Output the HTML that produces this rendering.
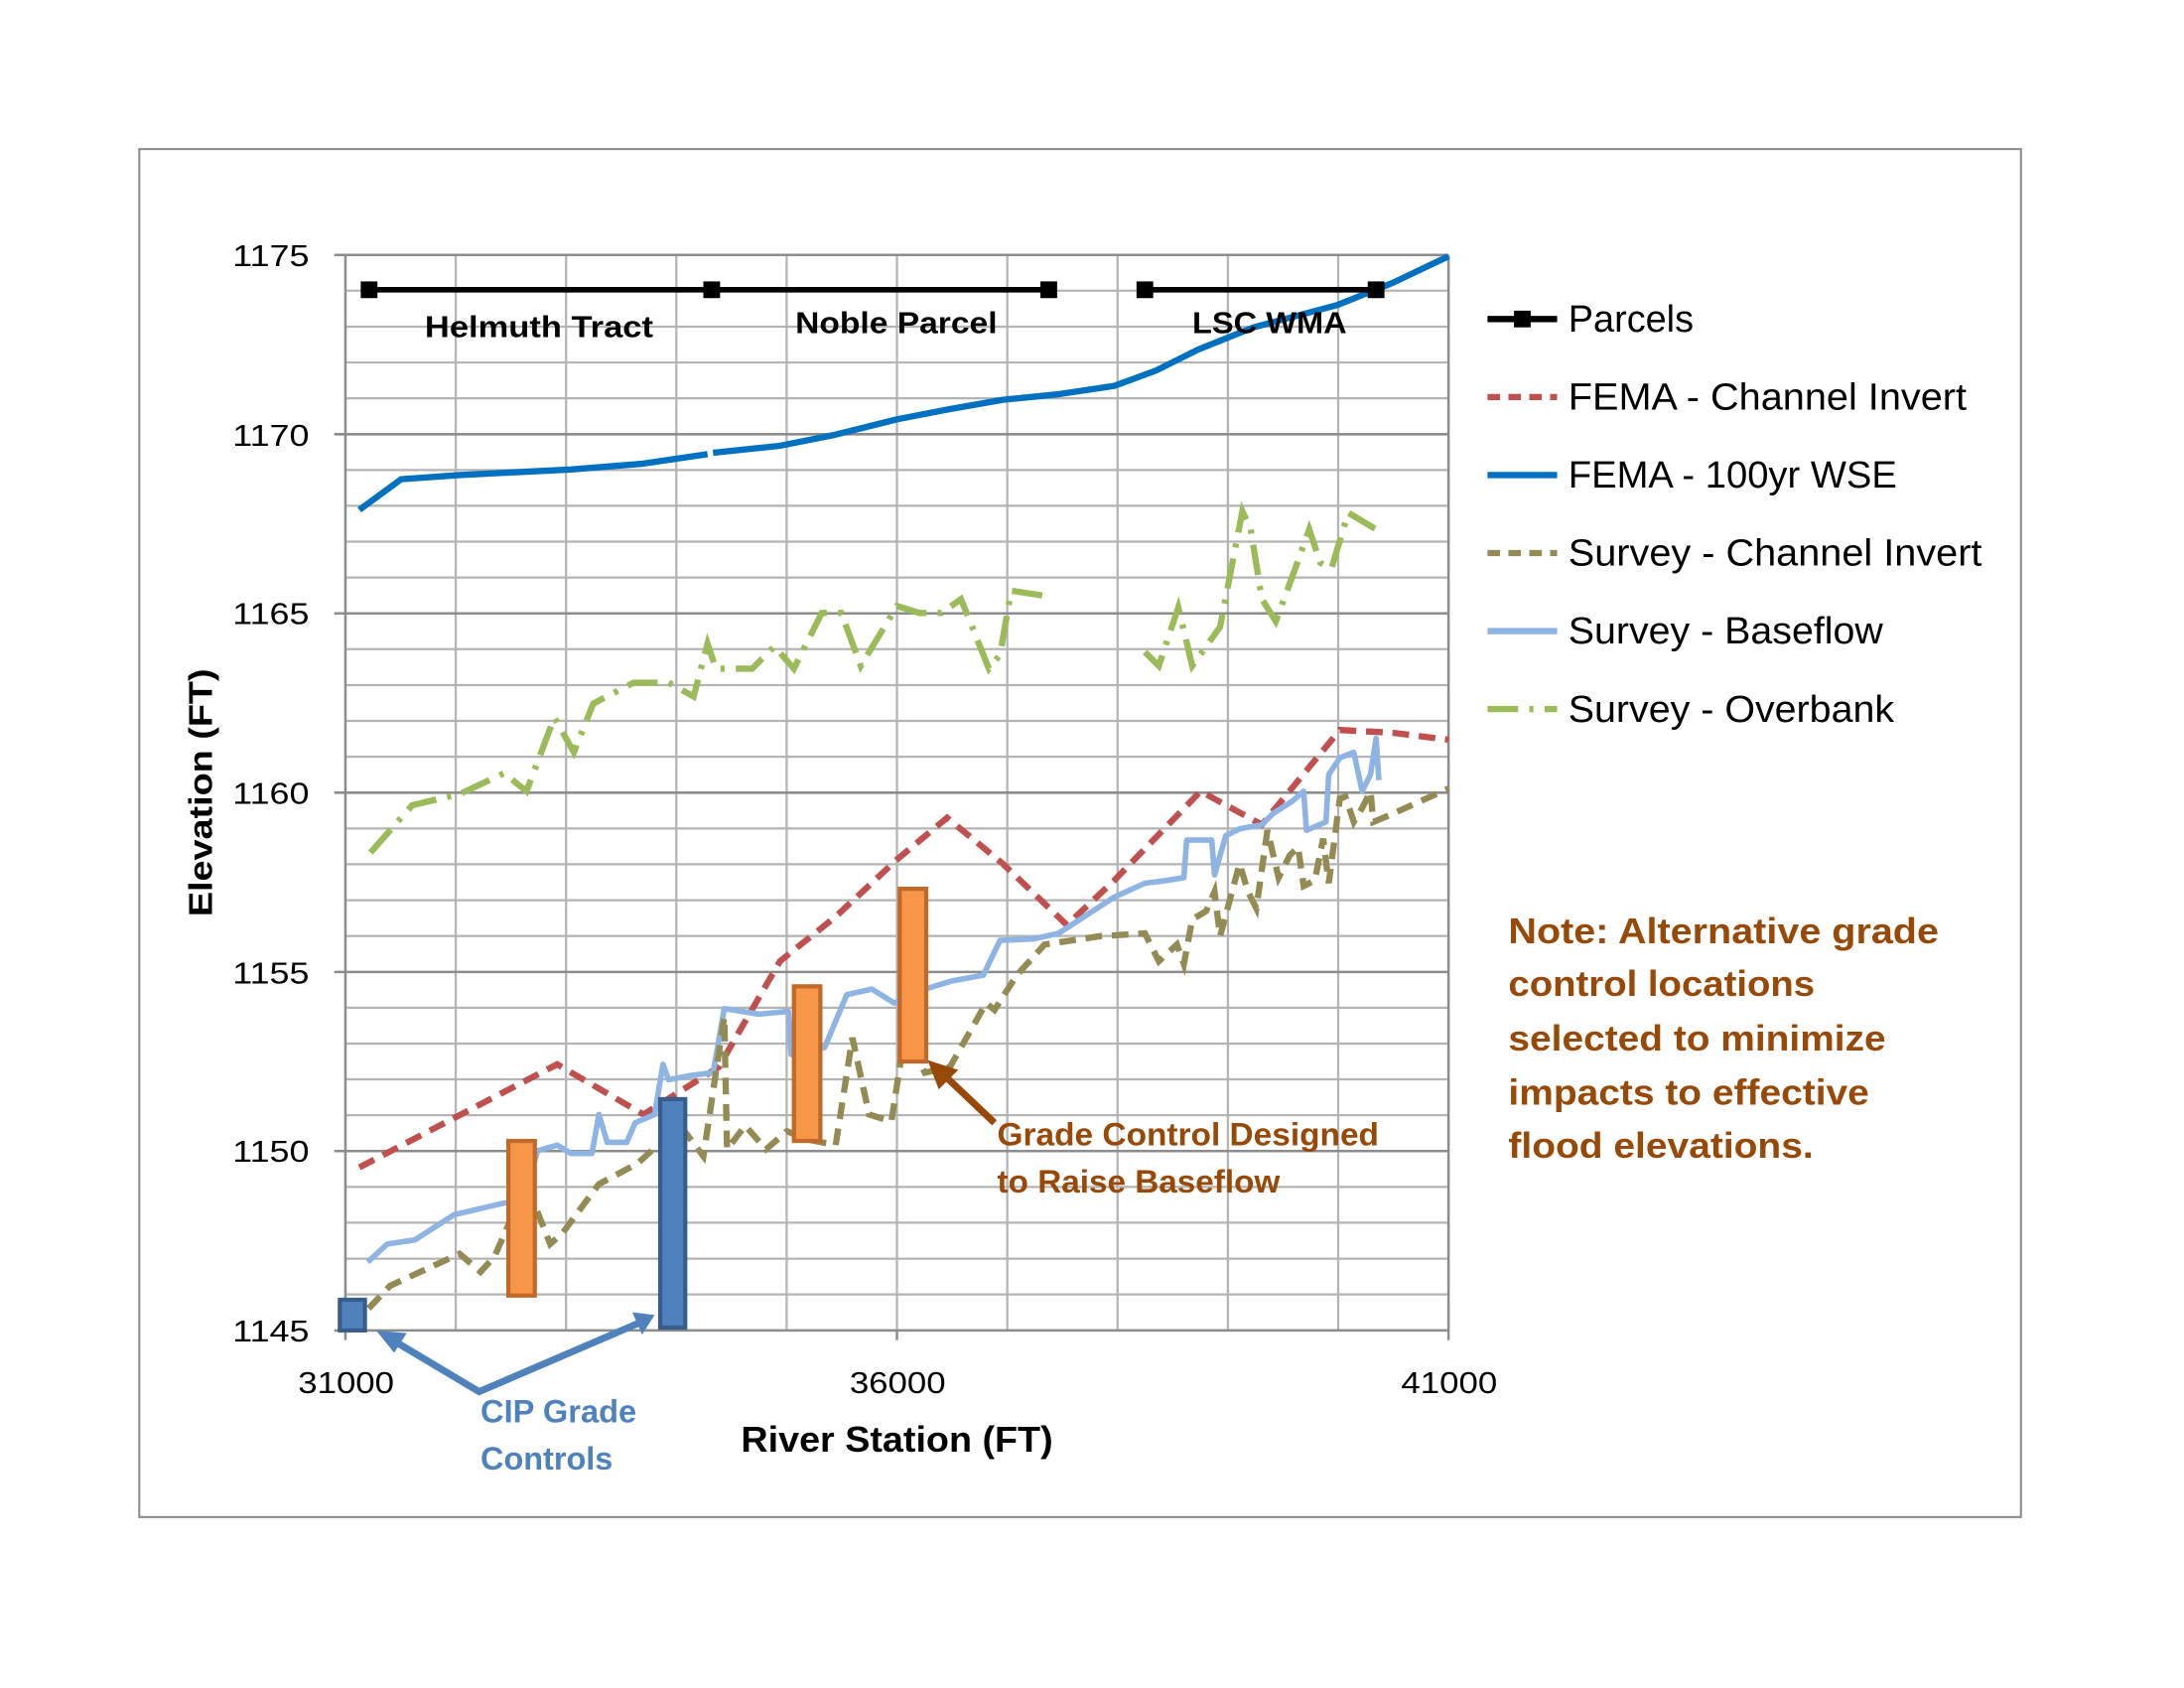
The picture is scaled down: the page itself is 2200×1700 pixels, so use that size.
<!DOCTYPE html>
<html><head><meta charset="utf-8"><style>html,body{margin:0;padding:0;background:#fff}svg{display:block}</style></head>
<body>
<svg width="2200" height="1700" viewBox="0 0 2200 1700" xmlns="http://www.w3.org/2000/svg">
<rect width="2200" height="1700" fill="#fff"/>
<g transform="scale(1.403)" font-family="Liberation Sans, sans-serif">
<rect x="100" y="107" width="1351" height="982" fill="none" stroke="#8c8c8c" stroke-width="1.5"/>
<g stroke="#b4b4b4" stroke-width="1.6">
<line x1="248" y1="208.7" x2="1040" y2="208.7"/><line x1="248" y1="234.5" x2="1040" y2="234.5"/><line x1="248" y1="260.2" x2="1040" y2="260.2"/><line x1="248" y1="285.9" x2="1040" y2="285.9"/>
<line x1="248" y1="337.4" x2="1040" y2="337.4"/><line x1="248" y1="363.1" x2="1040" y2="363.1"/><line x1="248" y1="388.8" x2="1040" y2="388.8"/><line x1="248" y1="414.6" x2="1040" y2="414.6"/>
<line x1="248" y1="466" x2="1040" y2="466"/><line x1="248" y1="491.8" x2="1040" y2="491.8"/><line x1="248" y1="517.5" x2="1040" y2="517.5"/><line x1="248" y1="543.2" x2="1040" y2="543.2"/>
<line x1="248" y1="594.7" x2="1040" y2="594.7"/><line x1="248" y1="620.4" x2="1040" y2="620.4"/><line x1="248" y1="646.2" x2="1040" y2="646.2"/><line x1="248" y1="671.9" x2="1040" y2="671.9"/>
<line x1="248" y1="723.4" x2="1040" y2="723.4"/><line x1="248" y1="749.1" x2="1040" y2="749.1"/><line x1="248" y1="774.8" x2="1040" y2="774.8"/><line x1="248" y1="800.5" x2="1040" y2="800.5"/>
<line x1="248" y1="852" x2="1040" y2="852"/><line x1="248" y1="877.7" x2="1040" y2="877.7"/><line x1="248" y1="903.5" x2="1040" y2="903.5"/><line x1="248" y1="929.2" x2="1040" y2="929.2"/>
<line x1="327.2" y1="183" x2="327.2" y2="955"/><line x1="406.4" y1="183" x2="406.4" y2="955"/><line x1="485.6" y1="183" x2="485.6" y2="955"/><line x1="564.8" y1="183" x2="564.8" y2="955"/><line x1="644" y1="183" x2="644" y2="955"/><line x1="723.2" y1="183" x2="723.2" y2="955"/><line x1="802.4" y1="183" x2="802.4" y2="955"/><line x1="881.6" y1="183" x2="881.6" y2="955"/><line x1="960.8" y1="183" x2="960.8" y2="955"/>
</g>
<g stroke="#8c8c8c" stroke-width="1.8">
<line x1="240" y1="183" x2="1040" y2="183"/><line x1="240" y1="311.7" x2="1040" y2="311.7"/><line x1="240" y1="440.3" x2="1040" y2="440.3"/><line x1="240" y1="569" x2="1040" y2="569"/><line x1="240" y1="697.7" x2="1040" y2="697.7"/><line x1="240" y1="826.3" x2="1040" y2="826.3"/><line x1="240" y1="955" x2="1040" y2="955"/>
<line x1="248" y1="183" x2="248" y2="962"/><line x1="644" y1="955" x2="644" y2="962"/><line x1="1040" y1="183" x2="1040" y2="962"/>
</g>
<g font-size="22" fill="#000">
<text x="167" y="191" textLength="55" lengthAdjust="spacingAndGlyphs">1175</text><text x="167" y="320" textLength="55" lengthAdjust="spacingAndGlyphs">1170</text><text x="167" y="448" textLength="55" lengthAdjust="spacingAndGlyphs">1165</text><text x="167" y="577" textLength="55" lengthAdjust="spacingAndGlyphs">1160</text><text x="167" y="706" textLength="55" lengthAdjust="spacingAndGlyphs">1155</text><text x="167" y="834" textLength="55" lengthAdjust="spacingAndGlyphs">1150</text><text x="167" y="963" textLength="55" lengthAdjust="spacingAndGlyphs">1145</text>
</g>
<g font-size="22"><text x="214" y="1000" textLength="69" lengthAdjust="spacingAndGlyphs">31000</text><text x="610" y="1000" textLength="69" lengthAdjust="spacingAndGlyphs">36000</text><text x="1006" y="1000" textLength="69" lengthAdjust="spacingAndGlyphs">41000</text></g>
<text transform="translate(152,658) rotate(-90)" font-size="24" font-weight="bold" textLength="178" lengthAdjust="spacingAndGlyphs">Elevation (FT)</text>
<text x="532" y="1042" font-size="26" font-weight="bold" textLength="224" lengthAdjust="spacingAndGlyphs">River Station (FT)</text>
<!-- series -->
<polyline fill="none" stroke="#0070C0" stroke-width="4.5" stroke-linejoin="round" points="258,366 288,344 330,341 410,337 460,333 508,326"/>
<polyline fill="none" stroke="#0070C0" stroke-width="4.5" stroke-linejoin="round" points="512,325 560,320 600,312 644,301 680,294 720,287 760,283 800,277 830,266 860,251 900,235 960,219 1000,203 1040,184"/>
<polyline fill="none" stroke="#C0504D" stroke-width="4.5" stroke-dasharray="12,7" points="258,838 400,764 462,800 516,766 560,690 600,658 644,617 680,587 720,620 766,664 800,632 862,568 906,592 962,524 1000,526 1040,531"/>
<polyline fill="none" stroke="#8DB4E2" stroke-width="4" stroke-linejoin="round" points="264,906 278,893 298,890 326,872 360,864 376,861 386,826 400,822 410,828 425,828 430,800 436,820 450,820 456,806 470,800 476,764 480,775 496,772 512,770 520,724 545,728 566,726 568,757 592,752 608,714 626,710 642,720 664,710 684,704 706,700 718,675 742,674 760,670 800,644 822,634 838,632 850,630 852,603 870,603 872,628 880,600 890,595 906,592 914,584 928,575 936,568 938,596 952,590 954,556 962,544 972,540 978,568 984,556 988,530 990,560"/>
<polyline fill="none" stroke="#948A54" stroke-width="4.5" stroke-dasharray="12,7" points="254,955 264,940 280,923 330,900 345,913 355,902 378,850 395,893 404,885 415,870 430,850 445,842 458,835 470,824 490,810 505,830 520,730 522,825 535,808 550,825 565,812 580,818 600,822 612,745 624,800 640,805 650,740 664,770 682,766 708,720 714,725 730,700 750,678 790,672 822,670 832,690 845,678 850,692 856,660 866,654 872,640 876,672 890,620 896,640 902,652 910,596 918,630 926,614 932,608 936,636 944,632 950,602 954,634 962,573 966,572 972,590 978,580 984,568 986,590 998,585 1040,566"/>
<polyline fill="none" stroke="#9BBB59" stroke-width="4.5" stroke-dasharray="22,8,3,8" points="266,612 296,578 330,570 362,555 378,568 398,515 412,540 426,505 455,490 480,490 498,500 508,462 514,480 540,480 556,464 570,480 590,440 604,440 618,478 644,435 660,440 676,440 690,430 710,480 718,470 726,424 752,428"/>
<polyline fill="none" stroke="#9BBB59" stroke-width="4.5" stroke-dasharray="22,8,3,8" points="822,468 832,478 846,436 856,478 876,450 892,367 898,380 906,430 916,446 930,408 940,380 948,404 956,408 968,368 988,380"/>
<!-- parcels -->
<g stroke="#000" stroke-width="4"><line x1="265" y1="208" x2="753" y2="208"/><line x1="822" y1="208" x2="988" y2="208"/></g>
<g fill="#000"><rect x="259" y="202" width="12" height="12"/><rect x="505" y="202" width="12" height="12"/><rect x="747" y="202" width="12" height="12"/><rect x="816" y="202" width="12" height="12"/><rect x="982" y="202" width="12" height="12"/></g>
<g font-size="22" font-weight="bold"><text x="305" y="242" textLength="164" lengthAdjust="spacingAndGlyphs">Helmuth Tract</text><text x="571" y="239" textLength="145" lengthAdjust="spacingAndGlyphs">Noble Parcel</text><text x="856" y="239" textLength="111" lengthAdjust="spacingAndGlyphs">LSC WMA</text></g>
<!-- boxes -->
<g fill="#F79646" stroke="#C0692A" stroke-width="3"><rect x="365" y="819" width="19" height="111"/><rect x="570" y="708" width="19" height="111"/><rect x="646" y="638" width="19" height="124"/></g>
<g fill="#4F81BD" stroke="#385D8A" stroke-width="3"><rect x="244" y="933" width="18" height="22"/><rect x="474" y="789" width="18" height="164"/></g>
<!-- arrows -->
<g stroke="#4F81BD" stroke-width="5" fill="none"><polyline points="282,962 344,999 458,950"/></g>
<polygon fill="#4F81BD" points="270,955 292,957 283,971"/>
<polygon fill="#4F81BD" points="470,944 454,942 461,958"/>
<line x1="714" y1="806" x2="676" y2="770" stroke="#984807" stroke-width="5"/>
<polygon fill="#984807" points="666,761 688,768 674,782"/>
<g font-size="23" font-weight="bold" fill="#4F81BD"><text x="345" y="1021" textLength="112" lengthAdjust="spacingAndGlyphs">CIP Grade</text><text x="345" y="1055" textLength="95" lengthAdjust="spacingAndGlyphs">Controls</text></g>
<g font-size="23" font-weight="bold" fill="#984807"><text x="716" y="822" textLength="274" lengthAdjust="spacingAndGlyphs">Grade Control Designed</text><text x="716" y="856" textLength="203" lengthAdjust="spacingAndGlyphs">to Raise Baseflow</text></g>
<g font-size="26" font-weight="bold" fill="#984807"><text x="1083" y="677" textLength="309" lengthAdjust="spacingAndGlyphs">Note: Alternative grade</text><text x="1083" y="715" textLength="220" lengthAdjust="spacingAndGlyphs">control locations</text><text x="1083" y="754" textLength="271" lengthAdjust="spacingAndGlyphs">selected to minimize</text><text x="1083" y="793" textLength="259" lengthAdjust="spacingAndGlyphs">impacts to effective</text><text x="1083" y="831" textLength="219" lengthAdjust="spacingAndGlyphs">flood elevations.</text></g>
<!-- legend -->
<g stroke-width="4.5" fill="none">
<line x1="1068" y1="229" x2="1118" y2="229" stroke="#000"/>
<line x1="1068" y1="285" x2="1118" y2="285" stroke="#C0504D" stroke-dasharray="9,6"/>
<line x1="1068" y1="341" x2="1118" y2="341" stroke="#0070C0"/>
<line x1="1068" y1="397" x2="1118" y2="397" stroke="#948A54" stroke-dasharray="9,6"/>
<line x1="1068" y1="453" x2="1118" y2="453" stroke="#8DB4E2"/>
<line x1="1068" y1="509" x2="1118" y2="509" stroke="#9BBB59" stroke-dasharray="22,8,3,8"/>
</g>
<rect x="1087" y="223" width="12" height="12" fill="#000"/>
<g font-size="27" fill="#000"><text x="1126" y="238" textLength="90" lengthAdjust="spacingAndGlyphs">Parcels</text><text x="1126" y="294" textLength="286" lengthAdjust="spacingAndGlyphs">FEMA - Channel Invert</text><text x="1126" y="350" textLength="236" lengthAdjust="spacingAndGlyphs">FEMA - 100yr WSE</text><text x="1126" y="406" textLength="297" lengthAdjust="spacingAndGlyphs">Survey - Channel Invert</text><text x="1126" y="462" textLength="226" lengthAdjust="spacingAndGlyphs">Survey - Baseflow</text><text x="1126" y="518" textLength="234" lengthAdjust="spacingAndGlyphs">Survey - Overbank</text></g>
</g>
</svg>
</body></html>
